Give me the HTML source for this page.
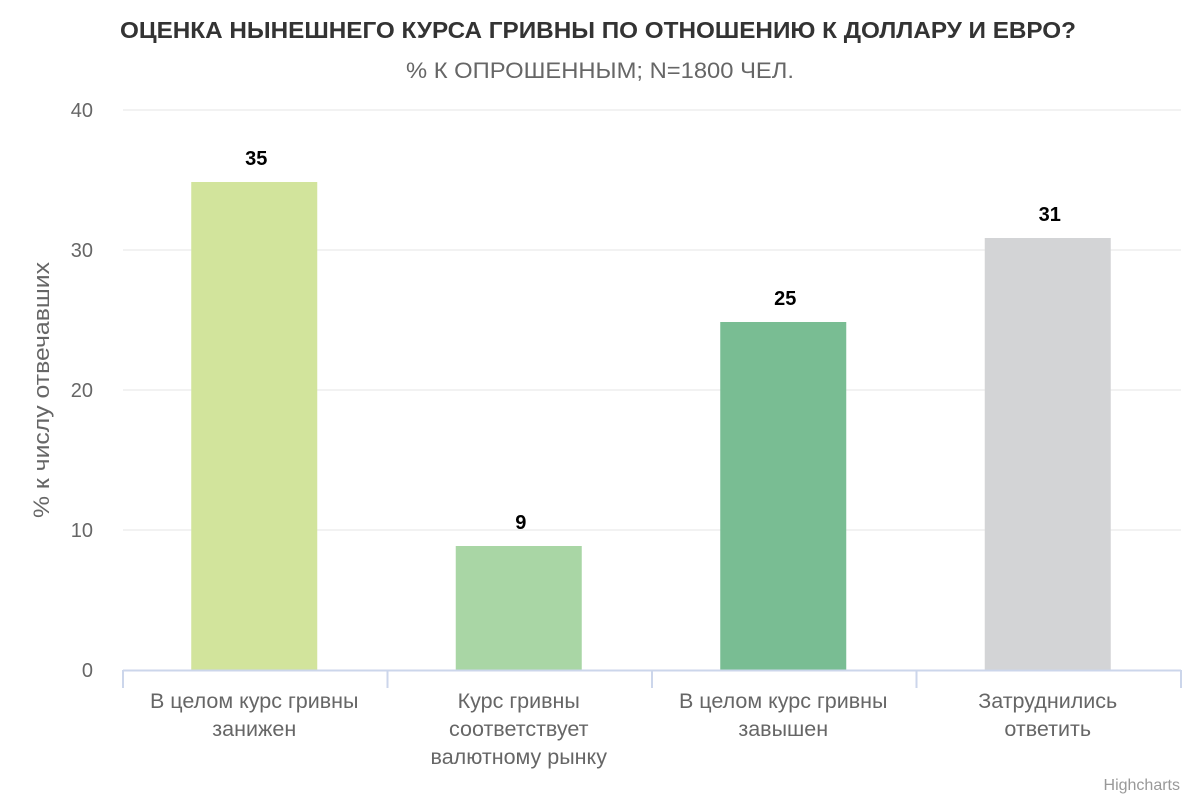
<!DOCTYPE html>
<html><head><meta charset="utf-8"><style>
body{margin:0;background:#fff;font-family:"Liberation Sans",sans-serif}
</style></head><body>
<svg width="1200" height="800" xmlns="http://www.w3.org/2000/svg" font-family="Liberation Sans, sans-serif">
<text x="598" y="38" text-anchor="middle" font-size="23" font-weight="bold" fill="#333" textLength="956" lengthAdjust="spacingAndGlyphs">ОЦЕНКА НЫНЕШНЕГО КУРСА ГРИВНЫ ПО ОТНОШЕНИЮ К ДОЛЛАРУ И ЕВРО?</text>
<text x="600" y="78" text-anchor="middle" font-size="22" fill="#666" textLength="388" lengthAdjust="spacingAndGlyphs">% К ОПРОШЕННЫМ; N=1800 ЧЕЛ.</text>
<g id="grid"></g><g id="bars"></g><g id="xaxis"></g>
<text transform="translate(49,390) rotate(-90)" text-anchor="middle" font-size="22" fill="#666" textLength="256" lengthAdjust="spacingAndGlyphs">% к числу отвечавших</text>
<text x="1180" y="790" text-anchor="end" font-size="16" fill="#999">Highcharts</text>
</svg>
<script>
const categories=[["В целом курс гривны","занижен"],["Курс гривны","соответствует","валютному рынку"],["В целом курс гривны","завышен"],["Затруднились","ответить"]];
const values=[35,9,25,31];
const colors=["#d2e49c","#a9d6a5","#79bd93","#d3d4d6"];
const yTicks=[0,10,20,30,40];
const NS="http://www.w3.org/2000/svg";
const x0=123,x1=1181,yBase=670,yTop=110,yMax=40;
const y=v=>yBase-(v/yMax)*(yBase-yTop);
const cw=(x1-x0)/categories.length;
function mk(t,a,p,txt){const e=document.createElementNS(NS,t);for(const k in a)e.setAttribute(k,a[k]);if(txt!=null)e.textContent=txt;p.appendChild(e);return e;}
const g=document.getElementById('grid'),b=document.getElementById('bars'),xa=document.getElementById('xaxis');
yTicks.forEach(t=>{
 if(t>0){const l=mk('line',{x1:x0,x2:x1,y1:y(t),y2:y(t),stroke:'#e6e6e6'},g);
 
 }
 const tx=mk('text',{x:93,y:y(t)+7,'text-anchor':'end','font-size':20,fill:'#666'},g,String(t));
 
 
});
values.forEach((v,i)=>{
 const cx=x0+cw*(i+0.5)-1,w=126;
 const r=mk('rect',{x:cx-w/2,y:y(v)+2,width:w,height:yBase-y(v)-2,fill:colors[i]},b);
 
 
 const t=mk('text',{x:cx+2,y:y(v)-15,'text-anchor':'middle','font-size':20,'font-weight':'bold',fill:'#000'},b,String(v));
 
 
 categories[i].forEach((s,j)=>{
  const c=mk('text',{x:cx,y:708+j*28,'text-anchor':'middle','font-size':21.5,fill:'#666'},xa,s);
  
  
 });
});
const ax=mk('line',{x1:x0,x2:x1,y1:yBase+0.5,y2:yBase+0.5,stroke:'#ccd6eb',"stroke-width":2},xa);


for(let i=0;i<=categories.length;i++){
 const xx=x0+cw*i;
 const tk=mk('line',{x1:xx,x2:xx,y1:yBase,y2:yBase+18,stroke:'#ccd6eb',"stroke-width":2},xa);
 
 
}
</script>
</body></html>
